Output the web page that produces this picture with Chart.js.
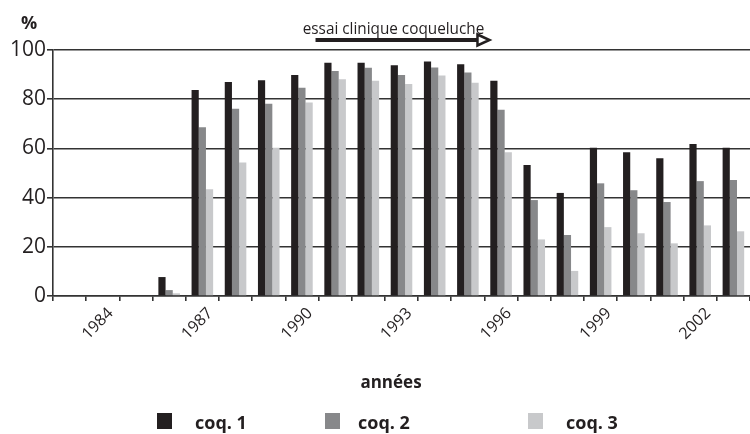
<!DOCTYPE html>
<html>
<head>
<meta charset="utf-8">
<script src="https://cdn.jsdelivr.net/npm/chart.js@4.4.1/dist/chart.umd.min.js"></script>
<style>
  html, body { margin: 0; padding: 0; background: #fff; overflow: hidden; }
  #wrap { width: 750px; height: 434px; }
</style>
</head>
<body>
<div id="wrap"><canvas id="chart" width="750" height="434"></canvas></div>
<script>
// Years on the x axis (only every third one gets a label)
const years = ["1983", "1984", "1985", "1986", "1987", "1988", "1989", "1990", "1991", "1992",
               "1993", "1994", "1995", "1996", "1997", "1998", "1999", "2000", "2001", "2002", "2003"];
const labelledYears = ["1984", "1987", "1990", "1993", "1996", "1999", "2002"];

// Coverage (%) per dose
const coq1 = [0, 0, 0, 7.7, 83.7, 87.0, 87.7, 89.8, 94.8, 94.8, 93.8, 95.3, 94.2, 87.5, 53.3, 41.9, 60.3, 58.4, 56.0, 61.8, 60.3];
const coq2 = [0, 0, 0, 2.4, 68.6, 76.1, 78.2, 84.7, 91.5, 92.8, 89.8, 92.9, 90.9, 75.7, 39.0, 24.8, 45.8, 43.0, 38.2, 46.7, 47.2];
const coq3 = [0, 0, 0, 1.1, 43.4, 54.3, 60.3, 78.7, 88.1, 87.5, 86.2, 89.6, 86.7, 58.4, 23.0, 10.2, 28.0, 25.5, 21.4, 28.7, 26.3];

const seriesNames = ["coq. 1", "coq. 2", "coq. 3"];
const seriesColors = ["#231f20", "#87888a", "#c8c9cb"];
const yTicks = [0, 20, 40, 60, 80, 100];

// Arrow above the plot: clinical trial period
const trialText = "essai clinique coqueluche";
const trialStart = "1991";
const trialEnd = "1996";

const ink = "#231f20";
const gridColor = "#333333";
const fontFamily = "'Open Sans', 'DejaVu Sans', sans-serif";

// Draws the "%" unit, the trial arrow, the x title and the legend
const extrasPlugin = {
    id: "extras",
    afterDraw(chart) {
        const ctx = chart.ctx;
        const x = chart.scales.x;
        const area = chart.chartArea;
        ctx.save();

        // unit label
        ctx.fillStyle = ink;
        ctx.font = "bold 18px " + fontFamily;
        ctx.textAlign = "center";
        ctx.textBaseline = "alphabetic";
        ctx.fillText("%", 29, 29);

        // trial arrow from start of trialStart to start of trialEnd
        const half = (x.getPixelForValue(1) - x.getPixelForValue(0)) / 2;
        const x0 = x.getPixelForValue(years.indexOf(trialStart)) - half - 3;
        const x1 = x.getPixelForValue(years.indexOf(trialEnd)) - half + 5;
        const ay = area.top - 10;
        ctx.strokeStyle = ink;
        ctx.lineWidth = 4;
        ctx.beginPath();
        ctx.moveTo(x0, ay);
        ctx.lineTo(x1 - 12, ay);
        ctx.stroke();
        ctx.lineWidth = 2.5;
        ctx.fillStyle = "#fff";
        ctx.beginPath();
        ctx.moveTo(x1 - 12, ay - 5.5);
        ctx.lineTo(x1, ay);
        ctx.lineTo(x1 - 12, ay + 5.5);
        ctx.closePath();
        ctx.fill();
        ctx.stroke();

        // trial text, slightly condensed
        ctx.fillStyle = ink;
        ctx.font = "17px " + fontFamily;
        ctx.textAlign = "center";
        ctx.save();
        ctx.translate((x0 + x1) / 2 - 9, ay - 6);
        ctx.scale(0.9, 1);
        ctx.fillText(trialText, 0, 0);
        ctx.restore();

        // x axis title
        ctx.font = "bold 17px " + fontFamily;
        ctx.fillText("années", 391, 388);

        // legend
        const boxX = [157, 325, 528];
        const textX = [195, 358, 566];
        ctx.font = "bold 18px " + fontFamily;
        ctx.textAlign = "left";
        chart.data.datasets.forEach((ds, i) => {
            ctx.fillStyle = ds.backgroundColor;
            ctx.fillRect(boxX[i], 413, 15, 16);
            ctx.fillStyle = ink;
            ctx.fillText(ds.label, textX[i], 429);
        });
        ctx.restore();
    }
};

new Chart(document.getElementById("chart"), {
    type: "bar",
    data: {
        labels: years,
        datasets: seriesNames.map((name, i) => ({
            label: name,
            data: [coq1, coq2, coq3][i],
            backgroundColor: seriesColors[i],
            borderWidth: 0
        }))
    },
    options: {
        responsive: false,
        animation: false,
        layout: { padding: { top: 50, right: 0, bottom: 0, left: 0 } },
        datasets: { bar: { categoryPercentage: 0.65, barPercentage: 1 } },
        plugins: { legend: { display: false }, tooltip: { enabled: false } },
        scales: {
            x: {
                grid: { drawOnChartArea: false, drawTicks: true, tickLength: 5, color: gridColor, lineWidth: 1.6 },
                border: { display: true, color: gridColor, width: 1.6 },
                ticks: {
                    autoSkip: false,
                    minRotation: 45,
                    maxRotation: 45,
                    padding: 3,
                    labelOffset: 8,
                    color: ink,
                    font: { family: fontFamily, size: 16 },
                    callback: (v, i) => labelledYears.includes(years[i]) ? years[i] : ""
                },
                afterFit: scale => { scale.height = 138; }
            },
            y: {
                min: 0,
                max: 100,
                grid: { color: gridColor, lineWidth: 1.6, tickLength: 6 },
                border: { display: true, color: gridColor, width: 1.6 },
                afterBuildTicks: scale => { scale.ticks = yTicks.map(v => ({ value: v })); },
                ticks: {
                    padding: 1,
                    color: ink,
                    font: { family: fontFamily, size: 21 }
                },
                afterFit: scale => { scale.width = 53; }
            }
        }
    },
    plugins: [extrasPlugin]
});
</script>
</body>
</html>
